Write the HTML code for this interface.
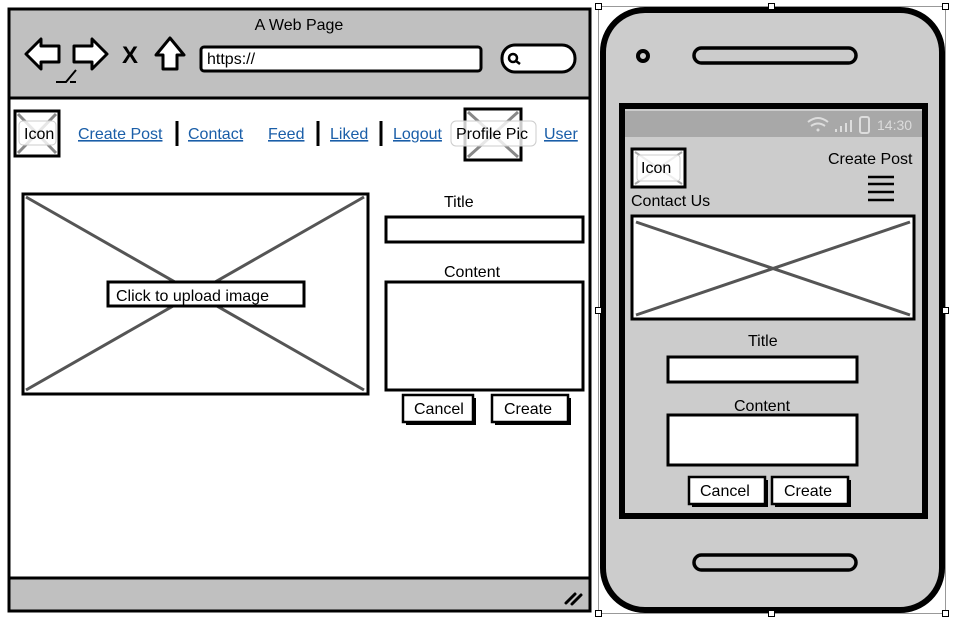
<!DOCTYPE html>
<html><head><meta charset="utf-8"><style>
html,body{margin:0;padding:0;background:#fff;width:958px;height:633px;overflow:hidden}
svg{display:block}
text{font-family:"Liberation Sans",sans-serif;fill:#000}
.lk{fill:#1a5ea8;text-decoration:underline}
</style></head><body>
<svg width="958" height="633" viewBox="0 0 958 633" xmlns="http://www.w3.org/2000/svg">
<rect x="9" y="9" width="581" height="602" fill="#fff" stroke="#000" stroke-width="3"/>
<rect x="9" y="9" width="581" height="89" fill="#c0c0c0" stroke="#000" stroke-width="3"/>
<rect x="9" y="578" width="581" height="33" fill="#c0c0c0" stroke="#000" stroke-width="3"/>
<text x="299" y="30" font-size="16" text-anchor="middle">A Web Page</text>
<path d="M26 54 L41 39 L41 46 L59 46 L59 62 L41 62 L41 69 Z" fill="#fff" stroke="#000" stroke-width="3" stroke-linejoin="round"/>
<path d="M107 54 L92 39 L92 46 L74 46 L74 62 L92 62 L92 69 Z" fill="#fff" stroke="#000" stroke-width="3" stroke-linejoin="round"/>
<path d="M56 82 L66 82 L76 70 M70 82 L76 82" stroke="#000" stroke-width="2" fill="none"/>
<text x="122" y="63" font-size="24" font-weight="bold">X</text>
<path d="M156 55 L170 38 L184 55 L177 55 L177 69 L163 69 L163 55 Z" fill="#fff" stroke="#000" stroke-width="3" stroke-linejoin="round"/>
<rect x="201" y="47" width="280" height="24" rx="3" fill="#fff" stroke="#000" stroke-width="3"/>
<text x="207" y="64" font-size="16">https://</text>
<rect x="502" y="45" width="73" height="27" rx="13" fill="#fff" stroke="#000" stroke-width="3"/>
<circle cx="513" cy="58" r="4" fill="none" stroke="#000" stroke-width="2.5"/>
<line x1="516" y1="61" x2="520" y2="64" stroke="#000" stroke-width="2.5"/>
<rect x="15" y="111" width="44" height="45" fill="#fff" stroke="#000" stroke-width="3"/>
<path d="M18 114 L56 153 M56 114 L18 153" stroke="#888" stroke-width="3"/>
<rect x="19" y="121" width="37" height="24" rx="4" fill="#fff" fill-opacity="0.8" stroke="#ccc"/>
<text x="24" y="139" font-size="16">Icon</text>
<text x="78" y="139" font-size="16" class="lk">Create Post</text>
<line x1="177" y1="121" x2="177" y2="146" stroke="#000" stroke-width="3"/>
<text x="188" y="139" font-size="16" class="lk">Contact</text>
<text x="268" y="139" font-size="16" class="lk">Feed</text>
<line x1="318" y1="121" x2="318" y2="146" stroke="#000" stroke-width="3"/>
<text x="330" y="139" font-size="16" class="lk">Liked</text>
<line x1="381" y1="121" x2="381" y2="146" stroke="#000" stroke-width="3"/>
<text x="393" y="139" font-size="16" class="lk">Logout</text>
<rect x="465" y="109" width="56" height="51" fill="#fff" stroke="#000" stroke-width="3"/>
<path d="M468 112 L518 157 M518 112 L468 157" stroke="#888" stroke-width="3"/>
<rect x="451" y="121" width="85" height="25" rx="5" fill="#fff" fill-opacity="0.8" stroke="#ccc"/>
<text x="456" y="139" font-size="16">Profile Pic</text>
<text x="544" y="139" font-size="16" class="lk">User</text>
<rect x="23" y="194" width="345" height="200" fill="#fff" stroke="#000" stroke-width="3"/>
<path d="M26 197 L364 390 M364 197 L26 390" stroke="#555" stroke-width="3"/>
<rect x="108" y="282" width="196" height="24" fill="#fff" stroke="#000" stroke-width="3"/>
<text x="116" y="301" font-size="16">Click to upload image</text>
<text x="444" y="207" font-size="16">Title</text>
<rect x="386" y="217" width="197" height="25" fill="#fff" stroke="#000" stroke-width="3"/>
<text x="444" y="277" font-size="16">Content</text>
<rect x="386" y="282" width="197" height="108" fill="#fff" stroke="#000" stroke-width="3"/>
<rect x="406" y="398" width="70" height="27" fill="#000"/>
<rect x="403" y="395" width="70" height="27" fill="#fff" stroke="#000" stroke-width="2.5"/>
<text x="414" y="414" font-size="16">Cancel</text>
<rect x="495" y="398" width="76" height="27" fill="#000"/>
<rect x="492" y="395" width="76" height="27" fill="#fff" stroke="#000" stroke-width="2.5"/>
<text x="504" y="414" font-size="16">Create</text>
<path d="M566 603 L575 594 M572 604 L581 595" stroke="#000" stroke-width="3" stroke-linecap="round"/>
<rect x="598.5" y="6.5" width="347" height="607" fill="none" stroke="#999" stroke-width="1"/>
<rect x="603" y="10" width="339" height="600" rx="42" fill="#cccccc" stroke="#000" stroke-width="6"/>
<circle cx="643" cy="56" r="5" fill="none" stroke="#000" stroke-width="4"/>
<rect x="694" y="48" width="162" height="15" rx="7.5" fill="#ccc" stroke="#000" stroke-width="3.5"/>
<rect x="694" y="555" width="162" height="15" rx="7.5" fill="#ccc" stroke="#000" stroke-width="3.5"/>
<rect x="622" y="106" width="303" height="410" fill="#cccccc" stroke="#000" stroke-width="6"/>
<rect x="625" y="111" width="297" height="26" fill="#a8a8a8"/>
<text x="877" y="130" font-size="14" style="fill:#dcdcdc">14:30</text>
<rect x="860" y="117" width="9" height="16" rx="2" fill="none" stroke="#ddd" stroke-width="2"/>
<path d="M836 132 v-3 M841 132 v-6 M846 132 v-9 M851 132 v-12" stroke="#ddd" stroke-width="2"/>
<path d="M808 122 q10 -8 20 0 M811 126 q7 -5 14 0" stroke="#ddd" stroke-width="2" fill="none"/>
<circle cx="818" cy="130" r="1.5" fill="#ddd"/>
<rect x="632" y="149" width="53" height="38" fill="#fff" stroke="#000" stroke-width="3"/>
<path d="M635 152 L682 184 M682 152 L635 184" stroke="#aaa" stroke-width="2"/>
<rect x="637" y="155" width="43" height="26" rx="3" fill="#fff" fill-opacity="0.8" stroke="#ccc"/>
<text x="641" y="173" font-size="16">Icon</text>
<text x="828" y="164" font-size="16">Create Post</text>
<path d="M868 177 h26 M868 184 h26 M868 192 h26 M868 200 h26" stroke="#000" stroke-width="2.5"/>
<text x="631" y="206" font-size="16">Contact Us</text>
<rect x="632" y="216" width="282" height="103" fill="#fff" stroke="#000" stroke-width="3"/>
<path d="M636 222 L910 315 M910 222 L636 315" stroke="#555" stroke-width="3"/>
<text x="748" y="346" font-size="16">Title</text>
<rect x="668" y="357" width="189" height="25" fill="#fff" stroke="#000" stroke-width="3"/>
<text x="734" y="411" font-size="16">Content</text>
<rect x="668" y="415" width="189" height="50" fill="#fff" stroke="#000" stroke-width="3"/>
<rect x="692" y="480" width="76" height="27" fill="#000"/>
<rect x="689" y="477" width="76" height="27" fill="#fff" stroke="#000" stroke-width="2.5"/>
<text x="700" y="496" font-size="16">Cancel</text>
<rect x="775" y="480" width="76" height="27" fill="#000"/>
<rect x="772" y="477" width="76" height="27" fill="#fff" stroke="#000" stroke-width="2.5"/>
<text x="784" y="496" font-size="16">Create</text>
<g fill="#fff" stroke="#000" stroke-width="1">
<rect x="595.5" y="3.5" width="6" height="6"/><rect x="768.5" y="3.5" width="6" height="6"/><rect x="942.5" y="3.5" width="6" height="6"/>
<rect x="595.5" y="307.5" width="6" height="6"/><rect x="942.5" y="307.5" width="6" height="6"/>
<rect x="595.5" y="610.5" width="6" height="6"/><rect x="768.5" y="610.5" width="6" height="6"/><rect x="942.5" y="610.5" width="6" height="6"/>
</g>
</svg>
</body></html>
